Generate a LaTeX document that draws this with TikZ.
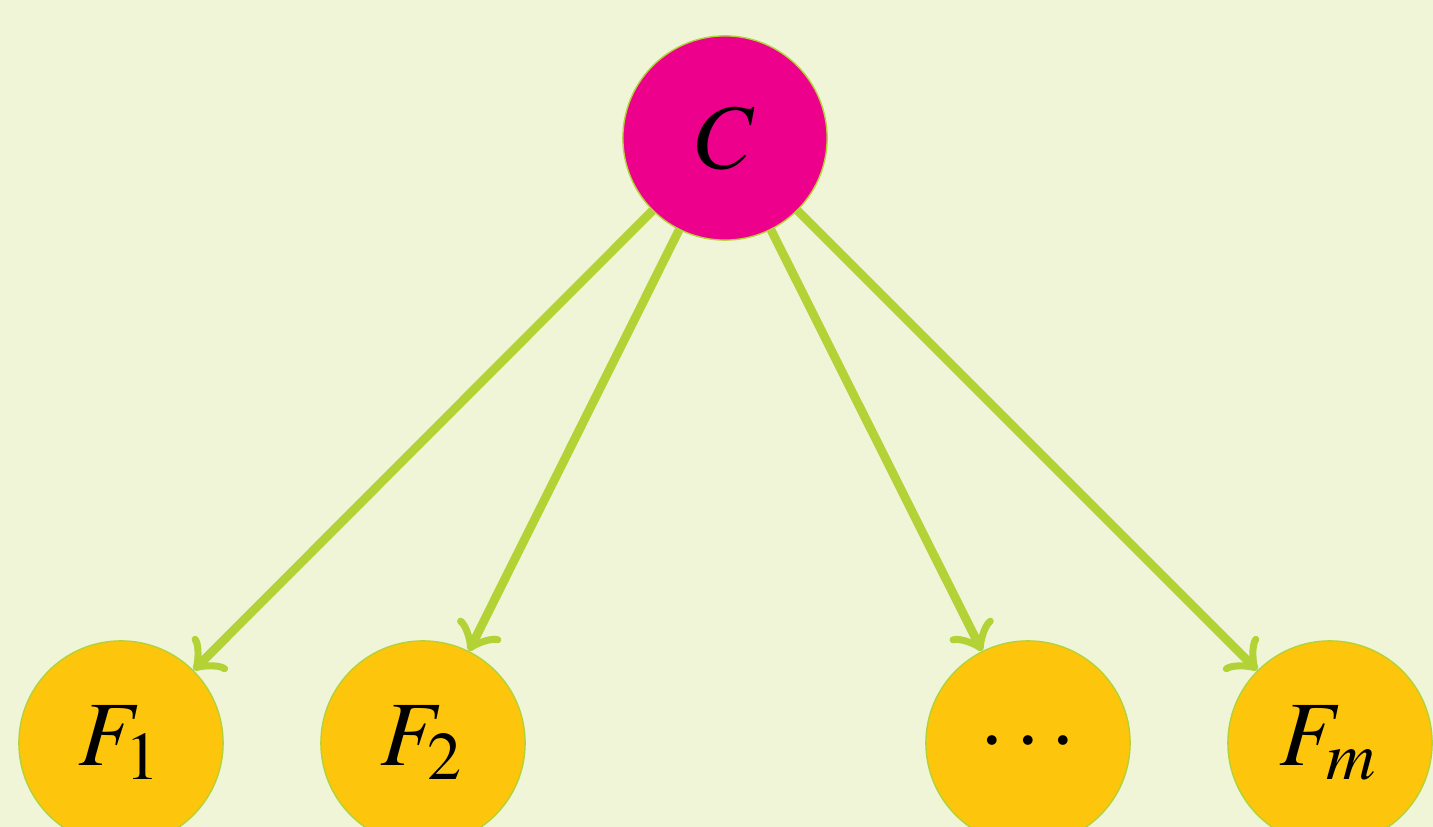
\documentclass[tikz,border=0pt]{standalone}
\usepackage{mathptmx}
\usetikzlibrary{arrows}
\definecolor{bgc}{HTML}{F0F5D8}
\definecolor{magc}{HTML}{EC008C}
\definecolor{yelc}{HTML}{FDC50C}
\definecolor{grnc}{HTML}{B2D235}
\begin{document}
\begin{tikzpicture}[x=0.1087pt,y=-0.1087pt,
  vert/.style={circle,draw=grnc,line width=0.15pt,minimum size=22.2pt,inner sep=0pt},
  cnode/.style={vert,fill=magc},
  fnode/.style={vert,fill=yelc},
  edge/.style={draw=grnc,line width=0.95pt,-to}]
\fill[bgc] (0,0) rectangle (1433,827);
\useasboundingbox (0,0) rectangle (1433,827);
\clip (0,0) rectangle (1433,827);
\node[cnode] (c) at (725,138) {$C$};
\node[fnode] (f1) at (121,743) {$F_1$};
\node[fnode] (f2) at (423,743) {$F_2$};
\node[fnode] (f3) at (1028,743) {$\cdots$};
\node[fnode] (fm) at (1330,743) {$F_m$};
\draw[edge] (c) -- (f1);
\draw[edge] (c) -- (f2);
\draw[edge] (c) -- (f3);
\draw[edge] (c) -- (fm);
\end{tikzpicture}
\end{document}
